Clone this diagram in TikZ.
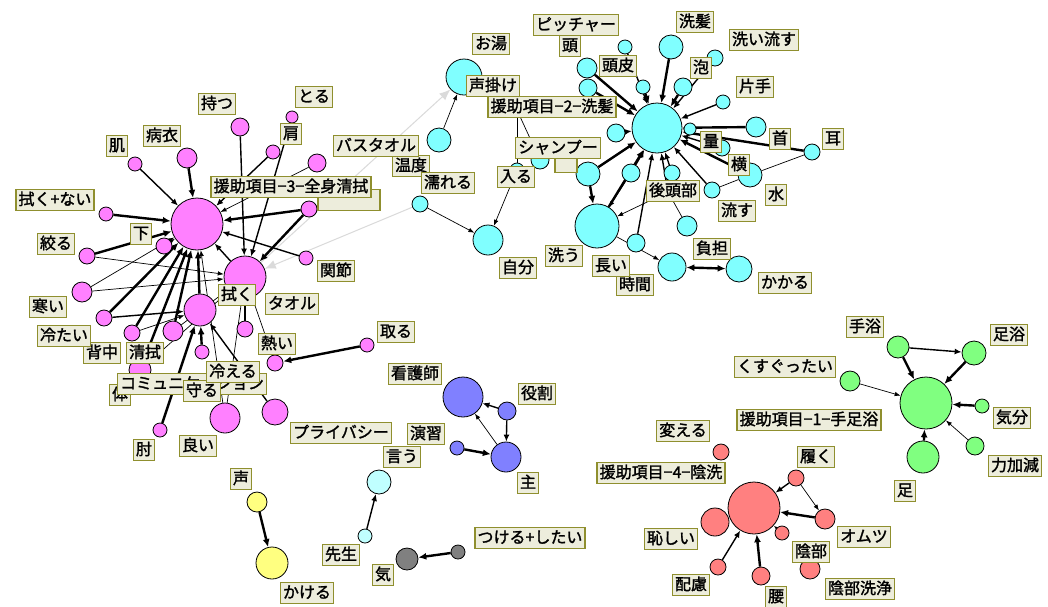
\documentclass[tikz,border=0pt]{standalone}
\usepackage{fontspec}
\usetikzlibrary{arrows.meta}
\newfontfamily\jp{Noto Sans CJK JP}[AutoFakeBold=1.6]
\definecolor{pk}{HTML}{FF80FF}
\definecolor{cy}{HTML}{80FFFF}
\definecolor{gr}{HTML}{80FF80}
\definecolor{rd}{HTML}{FF8080}
\definecolor{bl}{HTML}{8080FF}
\definecolor{ye}{HTML}{FFFF80}
\definecolor{gy}{HTML}{808080}
\definecolor{lc}{HTML}{C0FFFF}
\definecolor{labfill}{HTML}{EDEDDC}
\definecolor{labline}{HTML}{8F8F2E}
\definecolor{ghost}{HTML}{DADADA}
\pgfdeclarelayer{bg}
\pgfdeclarelayer{canvas}
\pgfsetlayers{canvas,bg,main}
\tikzset{
  v/.style={circle, draw=black, line width=0.8pt, inner sep=0pt},
  lab/.style={draw=labline, fill=labfill, line width=1.4pt, inner sep=2.5pt,
    text height=13pt, text depth=3pt, font=\jp\bfseries\fontsize{16}{16}\selectfont},
  ln/.style={line width=0.7pt},
  e1/.style={line width=0.7pt, -{Latex[length=6pt,width=4.5pt]}},
  e2/.style={line width=1.4pt, -{Latex[length=7pt,width=6pt]}},
  e3/.style={line width=2.4pt, -{Latex[length=8pt,width=7pt]}},
  e3b/.style={line width=2.4pt, {Latex[length=8pt,width=7pt]}-{Latex[length=8pt,width=7pt]}},
  eg/.style={line width=1pt, draw=ghost, -{Latex[length=11pt,width=9pt]}, color=ghost},
}
\begin{document}
\begin{tikzpicture}[x=1pt,y=-1pt]
\begin{pgfonlayer}{canvas}
\fill[white] (0,0) rectangle (1048,606);
\end{pgfonlayer}
\useasboundingbox (0,0) rectangle (1048,606);

% ---------- pink: whole-body wiping ----------
\node[v,fill=pk,minimum size=52] (pA) at (197,224) {};
\node[v,fill=pk,minimum size=42] (pB) at (245,277) {};
\node[v,fill=pk,minimum size=32] (pC) at (200,310) {};
\node[v,fill=pk,minimum size=18] (pMotsu) at (240,127) {};
\node[v,fill=pk,minimum size=12] (pToru) at (292,117) {};
\node[v,fill=pk,minimum size=14] (pKata) at (273,152) {};
\node[v,fill=pk,minimum size=20] (pByoui) at (187,158) {};
\node[v,fill=pk,minimum size=14] (pHada) at (135,164) {};
\node[v,fill=pk,minimum size=14] (pFukunai) at (106,214) {};
\node[v,fill=pk,minimum size=16] (pShita) at (164,246) {};
\node[v,fill=pk,minimum size=16] (pShiboru) at (87,256) {};
\node[v,fill=pk,minimum size=18] (pBath) at (317,163) {};
\node[v,fill=pk,minimum size=16] (pHid) at (309,209) {};
\node[v,fill=pk,minimum size=14] (pKansetsu) at (306,258) {};
\node[v,fill=pk,minimum size=20] (pSamui) at (82,292) {};
\node[v,fill=pk,minimum size=16] (pTsumetai) at (104,318) {};
\node[v,fill=pk,minimum size=16] (pSenaka) at (132,333) {};
\node[v,fill=pk,minimum size=20] (pSeishiki) at (173,331) {};
\node[v,fill=pk,minimum size=22] (pKomyu) at (140,370) {};
\node[v,fill=pk,minimum size=14] (pMamoru) at (202,352) {};
\node[v,fill=pk,minimum size=16] (pAtsui) at (245,329) {};
\node[v,fill=pk,minimum size=16] (pHieru) at (275,363) {};
\node[v,fill=pk,minimum size=14] (pTori) at (367,345) {};
\node[v,fill=pk,minimum size=30] (pYoi) at (225,418) {};
\node[v,fill=pk,minimum size=26] (pPriv) at (275,412) {};
\node[v,fill=pk,minimum size=14] (pHiji) at (160,430) {};

% ---------- cyan: hair washing ----------
\node[v,fill=cy,minimum size=50] (cD) at (657,128) {};
\node[v,fill=cy,minimum size=44] (cArau) at (597,226) {};
\node[v,fill=cy,minimum size=36] (cOyu) at (464,77) {};
\node[v,fill=cy,minimum size=24] (cKake) at (439,140) {};
\node[v,fill=cy,minimum size=16] (cNureru) at (420,204) {};
\node[v,fill=cy,minimum size=30] (cJibun) at (488,240) {};
\node[v,fill=cy,minimum size=14] (cHairu) at (517,170) {};
\node[v,fill=cy,minimum size=14] (cHid) at (517,110) {};
\node[v,fill=cy,minimum size=18] (cShampoo) at (540,160) {};
\node[v,fill=cy,minimum size=14] (cPitcher) at (625,47) {};
\node[v,fill=cy,minimum size=20] (cAtama) at (587,68) {};
\node[v,fill=cy,minimum size=18] (cN3) at (588,88) {};
\node[v,fill=cy,minimum size=14] (cToohi) at (643,87) {};
\node[v,fill=cy,minimum size=24] (cSenpatsu) at (671,47) {};
\node[v,fill=cy,minimum size=16] (cArainagasu) at (715,58) {};
\node[v,fill=cy,minimum size=18] (cAwa) at (683,87) {};
\node[v,fill=cy,minimum size=14] (cKatate) at (723,102) {};
\node[v,fill=cy,minimum size=20] (cKubi) at (756,127) {};
\node[v,fill=cy,minimum size=16] (cMimi) at (812,152) {};
\node[v,fill=cy,minimum size=12] (cRyo) at (690,129) {};
\node[v,fill=cy,minimum size=16] (cN5) at (722,148) {};
\node[v,fill=cy,minimum size=24] (cYoko) at (750,175) {};
\node[v,fill=cy,minimum size=16] (cNagasu) at (712,190) {};
\node[v,fill=cy,minimum size=18] (cNleft) at (616,133) {};
\node[v,fill=cy,minimum size=24] (cN1) at (588,174) {};
\node[v,fill=cy,minimum size=18] (cN2) at (631,173) {};
\node[v,fill=cy,minimum size=16] (cN4) at (672,173) {};
\node[v,fill=cy,minimum size=14] (cKotobu) at (668,192) {};
\node[v,fill=cy,minimum size=20] (cFutan) at (687,226) {};
\node[v,fill=cy,minimum size=26] (cKakaru) at (739,269) {};
\node[v,fill=cy,minimum size=28] (cJikan) at (672,267) {};
\node[v,fill=cy,minimum size=18] (cNagai) at (636,243) {};

% ---------- green: hand and foot bath ----------
\node[v,fill=gr,minimum size=52] (gHub) at (926,403) {};
\node[v,fill=gr,minimum size=22] (gTeyoku) at (898,347) {};
\node[v,fill=gr,minimum size=24] (gAshiyoku) at (974,353) {};
\node[v,fill=gr,minimum size=20] (gKusu) at (850,381) {};
\node[v,fill=gr,minimum size=14] (gKibun) at (982,406) {};
\node[v,fill=gr,minimum size=18] (gChikara) at (975,446) {};
\node[v,fill=gr,minimum size=32] (gAshi) at (923,457) {};

% ---------- red: perineal care ----------
\node[v,fill=rd,minimum size=52] (rHub) at (754,508) {};
\node[v,fill=rd,minimum size=16] (rKaeru) at (721,452) {};
\node[v,fill=rd,minimum size=16] (rHaku) at (796,478) {};
\node[v,fill=rd,minimum size=20] (rOmutsu) at (825,519) {};
\node[v,fill=rd,minimum size=28] (rHazu) at (715,522) {};
\node[v,fill=rd,minimum size=14] (rInbu) at (782,533) {};
\node[v,fill=rd,minimum size=20] (rInbuSen) at (810,569) {};
\node[v,fill=rd,minimum size=16] (rHairyo) at (718,567) {};
\node[v,fill=rd,minimum size=18] (rKoshi) at (761,576) {};

% ---------- small groups ----------
\node[v,fill=bl,minimum size=40] (bKango) at (463,397) {};
\node[v,fill=bl,minimum size=18] (bYaku) at (507,411) {};
\node[v,fill=bl,minimum size=30] (bShu) at (506,457) {};
\node[v,fill=bl,minimum size=14] (bEnshu) at (457,448) {};
\node[v,fill=lc,minimum size=24] (lIu) at (379,482) {};
\node[v,fill=lc,minimum size=14] (lSensei) at (365,536) {};
\node[v,fill=ye,minimum size=20] (yKoe) at (257,502) {};
\node[v,fill=ye,minimum size=32] (yKakeru) at (272,563) {};
\node[v,fill=gy,minimum size=22] (kKi) at (407,559) {};
\node[v,fill=gy,minimum size=14] (kTsukeru) at (458,552) {};

% ---------- connectors ----------
\begin{pgfonlayer}{bg}
\draw[eg] (pB) -- (cOyu);
\draw[eg] (cNureru) -- (pB);
% pink
\draw[e2] (pMotsu) -- (pB);
\draw[e2] (pToru) -- (pB);
\draw[e2] (pKata) -- (pA);
\draw[e3] (pByoui) -- (pA);
\draw[e2] (pHada) -- (pA);
\draw[e3] (pFukunai) -- (pA);
\draw[e2] (pShita) -- (pA);
\draw[e3] (pShiboru) -- (pA);
\draw[e1] (pShiboru) -- (pB);
\draw[e1] (pBath) -- (pA);
\draw[e3] (pHid) -- (pA);
\draw[e3] (pHid) -- (pB);
\draw[e2] (pKansetsu) -- (pA);
\draw[e1] (pSamui) -- (pA);
\draw[e1] (pSamui) -- (pB);
\draw[e3] (pTsumetai) -- (pA);
\draw[e2] (pTsumetai) -- (pC);
\draw[e3] (pSenaka) -- (pA);
\draw[e1] (pSenaka) -- (pC);
\draw[e3] (pSeishiki) -- (pA);
\draw[e1] (pSeishiki) -- (pB);
\draw[e3] (pKomyu) -- (pA);
\draw[e1] (pKomyu) -- (pB);
\draw[e3] (pMamoru) -- (pC);
\draw[e3] (pHiji) -- (pC);
\draw[e3] (pC) -- (pA);
\draw[e2] (pB) -- (pA);
\draw[e2] (pAtsui) -- (pB);
\draw[e1] (pHieru) -- (pB);
\draw[e3] (pTori) -- (pHieru);
\draw[e2] (pPriv) -- (pC);
\draw[e1] (pYoi) -- (pB);
\draw[e1] (pYoi) -- (pA);
% cyan
\draw[e1] (cKake) -- (cOyu);
\draw[e1] (cNureru) -- (cJibun);
\draw[e1] (cHairu) -- (cJibun);
\draw[ln] (cHid) -- (cHairu);
\draw[ln] (cHid) -- (cShampoo);
\draw[e2] (cPitcher) -- (cD);
\draw[e3] (cAtama) -- (cD);
\draw[e3] (cN3) -- (cD);
\draw[e3] (cToohi) -- (cD);
\draw[e3] (cSenpatsu) -- (cD);
\draw[e2] (cArainagasu) -- (cD);
\draw[e3] (cAwa) -- (cD);
\draw[e2] (cKatate) -- (cD);
\draw[e3] (cKubi) -- (cD);
\draw[e3] (cMimi) -- (cD);
\draw[ln] (cMimi) -- (cYoko);
\draw[e2] (cRyo) -- (cD);
\draw[e2] (cN5) -- (cD);
\draw[e3] (cYoko) -- (cD);
\draw[ln] (cNagasu) -- (cYoko);
\draw[e2] (cNagasu) -- (cD);
\draw[e3] (cNleft) -- (cD);
\draw[e3] (cN1) -- (cD);
\draw[e3] (cN1) -- (cArau);
\draw[e2] (cN2) -- (cD);
\draw[e1] (cN2) -- (cArau);
\draw[e2] (cN4) -- (cD);
\draw[e1] (cKotobu) -- (cArau);
\draw[e2] (cKotobu) -- (cD);
\draw[e3] (cArau) -- (cD);
\draw[e2] (cNagai) -- (cD);
\draw[e1] (cArau) -- (cJikan);
\draw[e3b] (cJikan) -- (cKakaru);
\draw[ln] (cFutan) -- (cKotobu);
% green
\draw[e2] (gTeyoku) -- (gAshiyoku);
\draw[e3] (gTeyoku) -- (gHub);
\draw[e3] (gAshiyoku) -- (gHub);
\draw[e1] (gKusu) -- (gHub);
\draw[e3] (gKibun) -- (gHub);
\draw[e1] (gChikara) -- (gHub);
\draw[e3] (gAshi) -- (gHub);
% red
\draw[e2] (rHaku) -- (rHub);
\draw[e1] (rHaku) -- (rOmutsu);
\draw[e3] (rOmutsu) -- (rHub);
\draw[e2] (rInbu) -- (rHub);
\draw[e2] (rHairyo) -- (rHub);
\draw[e3] (rKoshi) -- (rHub);
% small groups
\draw[e2] (bYaku) -- (bKango);
\draw[e2] (bYaku) -- (bShu);
\draw[e1] (bShu) -- (bKango);
\draw[e3] (bEnshu) -- (bShu);
\draw[e2] (lSensei) -- (lIu);
\draw[e3] (yKoe) -- (yKakeru);
\draw[e3] (kTsukeru) -- (kKi);
\end{pgfonlayer}

% ---------- word labels ----------
% pink
\node[lab, minimum width=62] (tHid) at (349,200) {};
\node[lab] (tA) at (291,187) {援助項目−3−全身清拭};
\node[lab] (tMotsu) at (217,104) {持つ};
\node[lab] (tToru) at (314,97) {とる};
\node[lab] (tKata) at (291,134) {肩};
\node[lab] (tByoui) at (162,136) {病衣};
\node[lab] (tHada) at (117,146) {肌};
\node[lab] (tFukunai) at (55,200) {拭く+ない};
\node[lab] (tShita) at (141,234) {下};
\node[lab] (tShiboru) at (56,244) {絞る};
\node[lab] (tOndo) at (411,166) {温度};
\node[lab] (tBath) at (376,146) {バスタオル};
\node[lab] (tKansetsu) at (336,271) {関節};
\node[lab] (tSamui) at (48,307) {寒い};
\node[lab] (tSenaka) at (102,353) {背中};
\node[lab] (tTsumetai) at (64,336) {冷たい};
\node[lab] (tSeishiki) at (145,353) {清拭};
\node[lab] (tKarada) at (120,395) {体};
\node[lab] (tKomyu) at (192,384) {コミュニケーション};
\node[lab] (tMamoru) at (202,391) {守る};
\node[lab] (tHieru) at (233,372) {冷える};
\node[lab] (tAtsui) at (277,344) {熱い};
\node[lab] (tFuku) at (237,295) {拭く};
\node[lab] (tTaoru) at (292,304) {タオル};
\node[lab] (tTori) at (396,332) {取る};
\node[lab] (tYoi) at (198,446) {良い};
\node[lab] (tPriv) at (341,433) {プライバシー};
\node[lab] (tHiji) at (144,450) {肘};
% cyan
\node[lab] (tOyu) at (491,44) {お湯};
\node[lab] (tKake) at (493,86) {声掛け};
\node[lab] (tD) at (552,107) {援助項目−2−洗髪};
\node[lab] (tNureru) at (448,183) {濡れる};
\node[lab] (tHairu) at (516,177) {入る};
\node[lab] (tJibun) at (518,268) {自分};
\node[lab, minimum width=22] (tHid2) at (566,162) {};
\node[lab] (tShampoo) at (558,148) {シャンプー};
\node[lab] (tAtama) at (570,46) {頭};
\node[lab] (tPitcher) at (576,25) {ピッチャー};
\node[lab] (tToohi) at (618,66) {頭皮};
\node[lab] (tSenpatsu) at (695,22) {洗髪};
\node[lab] (tArainagasu) at (764,40) {洗い流す};
\node[lab] (tAwa) at (701,68) {泡};
\node[lab] (tKatate) at (755,87) {片手};
\node[lab] (tKubi) at (780,139) {首};
\node[lab] (tMimi) at (833,139) {耳};
\node[lab] (tRyo) at (711,142) {量};
\node[lab] (tYoko) at (739,165) {横};
\node[lab] (tMizu) at (776,195) {水};
\node[lab] (tNagasu) at (737,211) {流す};
\node[lab] (tKotobu) at (673,191) {後頭部};
\node[lab] (tFutan) at (712,249) {負担};
\node[lab] (tKakaru) at (785,283) {かかる};
\node[lab] (tJikan) at (635,285) {時間};
\node[lab] (tNagai) at (611,266) {長い};
\node[lab] (tArau) at (564,256) {洗う};
% green
\node[lab] (tG) at (809,420) {援助項目−1−手足浴};
\node[lab] (tTeyoku) at (865,327) {手浴};
\node[lab] (tAshiyoku) at (1009,335) {足浴};
\node[lab] (tKusu) at (785,367) {くすぐったい};
\node[lab] (tKibun) at (1012,418) {気分};
\node[lab] (tChikara) at (1015,466) {力加減};
\node[lab] (tAshi) at (905,491) {足};
% red
\node[lab] (tR) at (661,473) {援助項目−4−陰洗};
\node[lab] (tKaeru) at (683,431) {変える};
\node[lab] (tHaku) at (816,457) {履く};
\node[lab] (tOmutsu) at (864,537) {オムツ};
\node[lab] (tHazu) at (671,539) {恥しい};
\node[lab] (tInbuSen) at (860,589) {陰部洗浄};
\node[lab] (tInbu) at (811,552) {陰部};
\node[lab] (tHairyo) at (691,585) {配慮};
\node[lab] (tKoshi) at (776,597) {腰};
% small groups
\node[lab] (tKango) at (415,374) {看護師};
\node[lab] (tYaku) at (537,394) {役割};
\node[lab] (tShu) at (528,483) {主};
\node[lab] (tEnshu) at (426,434) {演習};
\node[lab] (tIu) at (402,457) {言う};
\node[lab] (tSensei) at (341,555) {先生};
\node[lab] (tKoe) at (241,479) {声};
\node[lab] (tKakeru) at (307,593) {かける};
\node[lab] (tKi) at (383,575) {気};
\node[lab] (tTsukeru) at (530,538) {つける+したい};
\end{tikzpicture}
\end{document}
